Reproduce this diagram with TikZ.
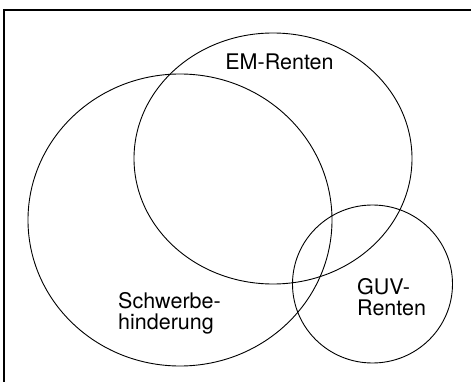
\documentclass[tikz,border=0pt]{standalone}
\usepackage{fontspec}
\setmainfont{TeX Gyre Heros}
\usetikzlibrary{shapes.geometric}
\begin{document}
\begin{tikzpicture}[x=1pt,y=-1pt,
  venn/.style={ellipse,draw,line width=0.9pt,inner sep=0pt},
  lbl/.style={inner sep=0pt,align=left,font=\fontsize{21.5}{21}\selectfont}]
\useasboundingbox (0,0) rectangle (471,382);
\draw[line width=2pt] (471,10) -- (4,10) -- (4,382);
\node[venn,minimum width=304pt,minimum height=292pt] (schwer) at (180,220) {};
\node[venn,minimum width=278pt,minimum height=251pt] (em) at (273,158.5) {};
\node[venn,minimum width=160pt,minimum height=158pt] (guv) at (372.5,284) {};
\node[lbl,anchor=base] (tem) at (279.5,70) {EM-Renten};
\node[lbl,anchor=base west] (tschwer) at (118,329) {Schwerbe-\\hinderung};
\node[lbl,anchor=base west] (tguv) at (357,315) {GUV-\\Renten};
\end{tikzpicture}
\end{document}
